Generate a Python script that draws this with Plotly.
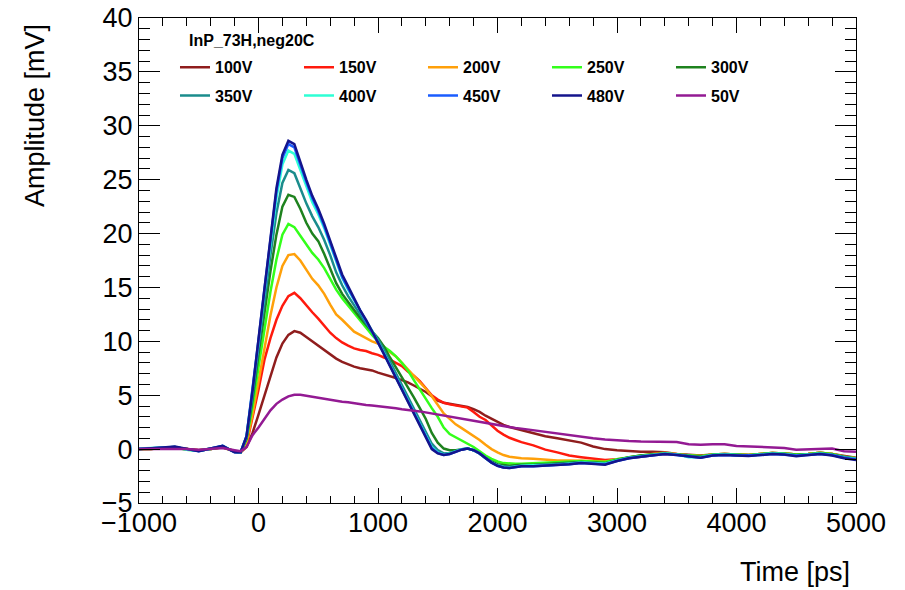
import plotly.graph_objects as go

# Time axis [ps]
time_ps = [-1000, -900, -800, -700, -600, -500, -400, -300, -200,
           -150, -100, -50, 0, 50, 100, 150, 200, 250, 300, 350, 400, 450, 500,
           550, 600, 650, 700, 750, 800, 850, 900, 950, 1000, 1050, 1100, 1150,
           1200, 1250, 1300, 1350, 1400, 1450, 1500, 1550, 1600, 1650, 1700,
           1750, 1800, 1850, 1900, 1950, 2000, 2050, 2100, 2150, 2200,
           2300, 2400, 2500, 2600, 2700, 2800, 2900, 3000, 3100, 3200, 3300,
           3400, 3500, 3600, 3700, 3800, 3900, 4000, 4100, 4200, 4300, 4400,
           4500, 4600, 4700, 4800, 4900, 5000]

# Amplitude [mV] for each bias voltage
amp_100V = [0.0, 0.0, 0.05, 0.1, 0.0, -0.1, 0.0, 0.15, -0.2,
            -0.3, 0.2, 1.5, 3.2, 5.0, 6.8, 8.5, 9.8, 10.6, 10.95, 10.8, 10.4, 10.0, 9.6,
            9.2, 8.8, 8.4, 8.1, 7.85, 7.65, 7.5, 7.4, 7.3, 7.1, 6.95, 6.8, 6.6,
            6.4, 6.2, 5.9, 5.6, 5.3, 4.9, 4.5, 4.3, 4.2, 4.1, 4.0,
            3.9, 3.7, 3.45, 3.1, 2.8, 2.5, 2.25, 2.05, 1.9, 1.75,
            1.5, 1.2, 1.0, 0.8, 0.6, 0.25, 0.0, -0.1, -0.2, -0.25, -0.25,
            -0.3, -0.45, -0.55, -0.6, -0.5, -0.45, -0.5, -0.55, -0.45, -0.35, -0.4,
            -0.5, -0.45, -0.35, -0.45, -0.65, -0.8]
amp_150V = [0.0, 0.0, 0.1, 0.1, 0.0, -0.1, 0.0, 0.2, -0.2,
            -0.3, 0.4, 2.8, 5.5, 8.3, 10.3, 12.0, 13.3, 14.2, 14.5, 14.0, 13.3, 12.7, 12.1,
            11.4, 10.8, 10.3, 9.9, 9.6, 9.35, 9.2, 9.1, 8.9, 8.75, 8.5, 8.3, 8.0,
            7.7, 7.2, 6.8, 6.3, 5.7, 5.0, 4.6, 4.3, 4.15, 4.05, 3.95,
            3.85, 3.45, 3.0, 2.7, 2.2, 1.7, 1.35, 1.05, 0.85, 0.65,
            0.35, -0.05, -0.3, -0.6, -0.75, -0.9, -1.0, -0.95, -0.85, -0.7, -0.55,
            -0.45, -0.5, -0.6, -0.65, -0.5, -0.45, -0.5, -0.55, -0.45, -0.35, -0.4,
            -0.5, -0.45, -0.35, -0.45, -0.7, -0.85]
amp_200V = [0.0, 0.0, 0.15, 0.1, 0.0, -0.1, 0.0, 0.2, -0.2,
            -0.3, 0.6, 3.2, 6.3, 9.4, 12.4, 15.0, 17.0, 18.0, 18.1, 17.5, 16.6, 15.8, 15.2,
            14.4, 13.4, 12.5, 12.0, 11.4, 10.9, 10.6, 10.3, 10.0, 9.8, 9.4, 9.0, 8.6,
            8.0, 7.4, 6.9, 6.2, 5.6, 4.9, 4.1, 3.3, 2.8, 2.3, 1.95,
            1.6, 1.2, 0.85, 0.4, 0.0, -0.3, -0.55, -0.7, -0.8, -0.85,
            -0.9, -1.0, -1.05, -1.05, -1.05, -1.1, -1.15, -0.95, -0.75, -0.6, -0.45,
            -0.35, -0.45, -0.6, -0.65, -0.5, -0.45, -0.5, -0.55, -0.45, -0.35, -0.4,
            -0.5, -0.45, -0.35, -0.45, -0.7, -0.85]
amp_250V = [0.0, 0.05, 0.1, 0.15, -0.05, -0.15, 0.05, 0.2, -0.25,
            -0.3, 0.9, 4.0, 7.6, 11.2, 14.6, 17.6, 19.9, 20.9, 20.6, 19.8, 19.0, 18.2, 17.6,
            16.8, 15.8, 14.8, 14.0, 13.3, 12.6, 12.0, 11.3, 10.6, 10.0, 9.5, 9.1, 8.6,
            8.0, 7.3, 6.4, 5.5, 4.6, 3.8, 3.0, 2.0, 1.4, 1.1, 0.8,
            0.5, 0.2, -0.2, -0.6, -0.9, -1.15, -1.3, -1.35, -1.35, -1.35,
            -1.3, -1.25, -1.2, -1.15, -1.1, -1.15, -1.2, -0.95, -0.75, -0.6, -0.5,
            -0.4, -0.5, -0.6, -0.65, -0.5, -0.45, -0.5, -0.55, -0.45, -0.35, -0.4,
            -0.5, -0.45, -0.35, -0.45, -0.7, -0.85]
amp_300V = [0.0, 0.0, 0.1, 0.15, 0.0, -0.15, 0.0, 0.25, -0.25,
            -0.3, 1.0, 4.6, 8.8, 12.8, 16.5, 19.9, 22.5, 23.6, 23.4, 22.3, 21.0, 20.0, 19.3,
            18.1, 16.8, 15.4, 14.4, 13.6, 12.9, 12.2, 11.5, 10.9, 10.3, 9.5, 8.5, 7.6,
            6.6, 5.7, 4.8, 3.8, 2.8, 1.5, 0.6, 0.05, -0.1, -0.1, 0.0,
            0.05, -0.1, -0.4, -0.8, -1.15, -1.4, -1.5, -1.55, -1.5, -1.45,
            -1.45, -1.4, -1.35, -1.3, -1.2, -1.25, -1.3, -1.0, -0.75, -0.6, -0.5,
            -0.4, -0.5, -0.65, -0.7, -0.55, -0.5, -0.55, -0.6, -0.5, -0.4, -0.45,
            -0.55, -0.5, -0.4, -0.5, -0.75, -0.9]
amp_350V = [0.0, 0.05, 0.1, 0.2, 0.0, -0.15, 0.05, 0.25, -0.25,
            -0.3, 1.1, 5.0, 9.4, 13.8, 18.0, 21.9, 24.7, 25.9, 25.6, 24.2, 22.8, 21.6, 20.6,
            19.4, 18.0, 16.4, 15.2, 14.2, 13.3, 12.5, 11.7, 11.0, 10.2, 9.2, 8.1, 7.0,
            5.9, 4.8, 3.8, 2.7, 1.6, 0.5, -0.1, -0.4, -0.35, -0.2, 0.0,
            0.05, -0.1, -0.4, -0.85, -1.2, -1.5, -1.6, -1.65, -1.6, -1.55,
            -1.5, -1.45, -1.4, -1.35, -1.25, -1.3, -1.35, -1.05, -0.8, -0.65, -0.5,
            -0.4, -0.5, -0.65, -0.75, -0.55, -0.5, -0.55, -0.6, -0.5, -0.4, -0.45,
            -0.6, -0.5, -0.4, -0.55, -0.75, -0.9]
amp_400V = [0.05, 0.1, 0.1, 0.2, -0.05, -0.15, 0.0, 0.3, -0.25,
            -0.3, 1.2, 5.3, 9.9, 14.6, 19.1, 23.3, 26.4, 27.7, 27.4, 25.8, 24.4, 22.9, 21.8,
            20.5, 19.0, 17.3, 15.9, 14.8, 13.8, 12.8, 11.9, 11.0, 10.0, 8.9, 7.8, 6.7,
            5.6, 4.5, 3.4, 2.3, 1.2, 0.2, -0.3, -0.5, -0.4, -0.2, 0.0,
            0.05, -0.1, -0.4, -0.85, -1.25, -1.5, -1.65, -1.7, -1.6, -1.55,
            -1.5, -1.5, -1.45, -1.35, -1.25, -1.3, -1.35, -1.05, -0.8, -0.65, -0.5,
            -0.4, -0.5, -0.75, -0.75, -0.55, -0.5, -0.55, -0.6, -0.5, -0.4, -0.45,
            -0.6, -0.5, -0.4, -0.55, -0.8, -0.9]
amp_450V = [0.0, 0.05, 0.15, 0.2, 0.0, -0.2, 0.05, 0.3, -0.3,
            -0.3, 1.2, 5.4, 10.1, 14.9, 19.5, 23.9, 27.0, 28.3, 28.0, 26.3, 24.8, 23.3, 22.1,
            20.7, 19.2, 17.5, 16.0, 14.9, 13.9, 12.9, 11.9, 10.95, 9.95, 8.85, 7.75, 6.65,
            5.55, 4.45, 3.35, 2.2, 1.1, 0.1, -0.35, -0.55, -0.45, -0.25, -0.05,
            0.05, -0.1, -0.4, -0.85, -1.25, -1.55, -1.7, -1.75, -1.65, -1.6,
            -1.6, -1.55, -1.5, -1.4, -1.3, -1.35, -1.4, -1.1, -0.85, -0.7, -0.55,
            -0.45, -0.55, -0.7, -0.8, -0.6, -0.55, -0.6, -0.6, -0.55, -0.45, -0.5,
            -0.6, -0.55, -0.45, -0.55, -0.8, -0.95]
amp_480V = [0.0, 0.05, 0.15, 0.25, 0.0, -0.2, 0.05, 0.3, -0.3,
            -0.3, 1.2, 5.4, 10.2, 15.0, 19.7, 24.2, 27.3, 28.6, 28.3, 26.6, 25.0, 23.5, 22.3,
            20.9, 19.4, 17.7, 16.2, 15.1, 14.0, 12.9, 12.0, 11.0, 9.9, 8.8, 7.7, 6.6,
            5.5, 4.4, 3.3, 2.1, 1.0, 0.0, -0.4, -0.55, -0.45, -0.25, -0.05,
            0.05, -0.1, -0.4, -0.85, -1.25, -1.55, -1.7, -1.75, -1.65, -1.6,
            -1.6, -1.55, -1.5, -1.4, -1.3, -1.35, -1.45, -1.1, -0.85, -0.7, -0.55,
            -0.45, -0.55, -0.7, -0.8, -0.6, -0.55, -0.6, -0.65, -0.55, -0.45, -0.5,
            -0.65, -0.55, -0.45, -0.6, -0.85, -1.0]
amp_50V = [0.0, 0.0, 0.05, 0.05, 0.0, -0.05, 0.0, 0.1, -0.1,
           -0.2, 0.2, 1.3, 2.0, 2.85, 3.6, 4.2, 4.6, 4.9, 5.05, 5.05, 4.95, 4.85, 4.75,
           4.65, 4.55, 4.5, 4.4, 4.35, 4.25, 4.2, 4.1, 4.05, 4.0, 3.95, 3.85, 3.8,
           3.7, 3.6, 3.55, 3.5, 3.4, 3.3, 3.2, 3.1, 3.0, 2.9, 2.8,
           2.7, 2.6, 2.5, 2.45, 2.35, 2.25, 2.15, 2.05, 1.95, 1.9,
           1.75, 1.55, 1.4, 1.3, 1.1, 1.0, 0.9, 0.8, 0.75, 0.7, 0.7,
           0.7, 0.65, 0.45, 0.4, 0.45, 0.45, 0.3, 0.25, 0.2, 0.15, 0.1,
           -0.05, 0.0, 0.05, 0.05, -0.2, -0.25]

labels = ["100V", "150V", "200V", "250V", "300V",
          "350V", "400V", "450V", "480V", "50V"]
series = [amp_100V, amp_150V, amp_200V, amp_250V, amp_300V,
          amp_350V, amp_400V, amp_450V, amp_480V, amp_50V]
colors = ["#8f1d1d", "#ff1a0d", "#ffa00a", "#33ff1a", "#1e821e",
          "#1a8c8c", "#2effd5", "#1a5cff", "#14148c", "#931a93"]

FONT = "Liberation Sans"
fig = go.Figure()
for i, (name, ys, col) in enumerate(zip(labels, series, colors)):
    fig.add_trace(go.Scatter(
        x=time_ps, y=ys, mode="lines", name=name,
        line=dict(color=col, width=2.5),
        legend="legend" if i < 5 else "legend2",
    ))

leg_common = dict(
    orientation="h", xanchor="left", yanchor="middle", x=0.0502,
    entrywidth=79, entrywidthmode="pixels",
    font=dict(family=FONT, size=16, color="black", weight="bold"),
    bgcolor="rgba(0,0,0,0)", borderwidth=0, itemwidth=30,
    traceorder="normal",
)

fig.update_layout(
    width=905, height=590, autosize=False,
    margin=dict(l=139, r=49, t=18, b=87, autoexpand=False),
    paper_bgcolor="white", plot_bgcolor="white",
    showlegend=True,
    legend=dict(leg_common, y=0.8984),
    legend2=dict(leg_common, y=0.8398),
    xaxis=dict(
        range=[-1000, 5000], tick0=-1000, dtick=1000, automargin=False,
        ticklabeloverflow="allow", ticklabelstandoff=-4,
        ticks="inside", ticklen=15, tickwidth=1, tickcolor="black",
        showline=True, linecolor="black", linewidth=1, mirror="allticks",
        showgrid=False, zeroline=False,
        tickfont=dict(family=FONT, size=27, color="black"),
        minor=dict(dtick=200, tick0=-1000, ticks="inside", ticklen=7.5,
                   tickwidth=1, tickcolor="black", showgrid=False),
    ),
    yaxis=dict(
        range=[-5, 40], tick0=0, dtick=5, automargin=False,
        ticklabeloverflow="allow",
        ticks="inside", ticklen=21, tickwidth=1, tickcolor="black",
        showline=True, linecolor="black", linewidth=1, mirror="allticks",
        showgrid=False, zeroline=False,
        tickfont=dict(family=FONT, size=27, color="black"),
        minor=dict(dtick=1, tick0=0, ticks="inside", ticklen=11,
                   tickwidth=1, tickcolor="black", showgrid=False),
    ),
    annotations=[
        dict(text="InP_73H,neg20C", xref="paper", yref="paper",
             x=0.0669, y=0.9546, xanchor="left", yanchor="middle",
             showarrow=False,
             font=dict(family=FONT, size=16, color="black", weight="bold")),
        dict(text="Amplitude [mV]", xref="paper", yref="paper",
             x=-0.145, y=0.798, xanchor="center", yanchor="middle",
             textangle=-90, showarrow=False,
             font=dict(family=FONT, size=27, color="black")),
        dict(text="Time [ps]", xref="paper", yref="paper",
             x=0.9944, y=-0.1423, xanchor="right", yanchor="middle",
             showarrow=False,
             font=dict(family=FONT, size=27, color="black")),
    ],
)

# remove the page's default 8px body margin so the figure fills the window
fig.write_html("out.html",
               config={"displayModeBar": False},
               post_script="document.body.style.margin='0';document.body.style.overflow='hidden';")
